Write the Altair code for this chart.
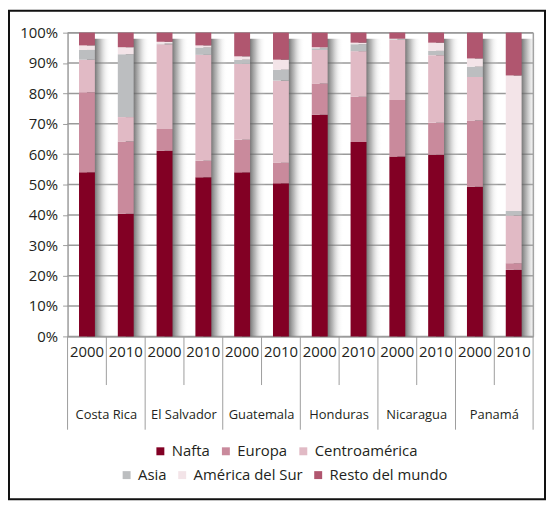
import altair as alt
import pandas as pd

countries = ["Costa Rica", "El Salvador", "Guatemala", "Honduras", "Nicaragua", "Panamá"]
years = ["2000", "2010"]
regions = ["Nafta", "Europa", "Centroamérica", "Asia", "América del Sur", "Resto del mundo"]
colors = ["#820024", "#c98a9c", "#e1bac5", "#bcbec0", "#f3e4e8", "#b0566f"]
y_ticks = [0, 10, 20, 30, 40, 50, 60, 70, 80, 90, 100]

# shares (%) per bar, order: CR2000, CR2010, ES2000, ES2010, GU2000, GU2010, HO2000, HO2010, NI2000, NI2010, PA2000, PA2010
nafta = [54.0, 40.4, 61.1, 52.4, 54.0, 50.4, 73.0, 64.0, 59.2, 59.8, 49.3, 21.9]
europa = [26.4, 23.8, 7.2, 5.4, 10.7, 6.8, 10.3, 14.9, 18.6, 10.5, 21.8, 2.2]
centro = [10.7, 8.0, 27.9, 34.9, 25.0, 27.0, 11.0, 15.0, 19.8, 22.3, 14.3, 15.7]
asia = [3.2, 20.7, 0.2, 2.4, 1.4, 3.6, 0.6, 2.3, 0.2, 1.4, 3.4, 1.5]
amsur = [1.5, 2.3, 0.6, 0.7, 1.1, 3.3, 0.3, 0.5, 0.2, 2.7, 2.7, 44.6]
resto = [4.2, 4.8, 3.0, 4.2, 7.8, 8.9, 4.8, 3.3, 2.0, 3.3, 8.5, 14.1]

series = [nafta, europa, centro, asia, amsur, resto]
keys = [f"{c}|{y}" for c in countries for y in years]

rows = []
for i, k in enumerate(keys):
    c, y = k.split("|")
    for j, (reg, vals) in enumerate(zip(regions, series)):
        rows.append({"key": k, "country": c, "year": y, "seg": reg, "idx": j, "val": vals[i]})
df = pd.DataFrame(rows)
grid_df = pd.DataFrame({"g": y_ticks})

FONT = "Open Sans"
GRAY = "#9d9d9d"
TXT = "#231f20"
W, H = 469, 306

xscale = alt.Scale(paddingInner=0, paddingOuter=0)
yscale = alt.Scale(domain=[0, 100], nice=False)

xaxis = alt.Axis(
    title=None, ticks=False, labelAngle=0, labelPadding=8,
    labelExpr="split(datum.value, '|')[1]", labelFontSize=15,
    labelFont=FONT, labelColor=TXT, domainColor=GRAY, grid=False,
)
yaxis = alt.Axis(
    title=None, values=y_ticks, labelExpr="datum.value + '%'",
    tickSize=5, labelPadding=5, labelFontSize=15, labelFont=FONT,
    labelColor=TXT, domainColor=GRAY, tickColor=GRAY, grid=False,
)

def leg(x, y):
    return alt.Legend(
        title=None, orient="none", legendX=x, legendY=y, direction="horizontal",
        symbolType="square", symbolSize=64, symbolStrokeWidth=0, padding=0,
        labelFontSize=15, labelFont=FONT, labelColor=TXT, labelOffset=4,
        columnPadding=8, labelLimit=300,
    )

base = alt.Chart(df)

grid = alt.Chart(grid_df).mark_rule(color="#9a9a9a", strokeWidth=1.5).encode(
    y=alt.Y("g:Q", scale=yscale, axis=yaxis),
    x=alt.value(0), x2=alt.value(W),
)

frame = alt.Chart(pd.DataFrame({"a": [0]})).mark_rect(
    fill="transparent", fillOpacity=0, stroke="#111111", strokeWidth=2
).encode(
    x=alt.value(-59), x2=alt.value(481), y=alt.value(-22), y2=alt.value(470)
)

shadow = base.transform_filter(alt.datum.seg == "Nafta").mark_bar(
    size=24, xOffset=12, yOffset=3,
    color=alt.LinearGradient(
        gradient="linear", x1=0, x2=1, y1=0, y2=0,
        stops=[
            alt.GradientStop(color="rgba(80,80,80,0.9)", offset=0),
            alt.GradientStop(color="rgba(95,95,95,0.85)", offset=0.33),
            alt.GradientStop(color="rgba(130,130,130,0.55)", offset=0.55),
            alt.GradientStop(color="rgba(200,200,200,0.2)", offset=0.8),
            alt.GradientStop(color="rgba(255,255,255,0)", offset=1),
        ],
    ),
).encode(
    x=alt.X("key:N", sort=keys, scale=xscale, axis=xaxis),
    y=alt.YDatum(99, type="quantitative", scale=yscale, axis=yaxis),
    y2=alt.Y2Datum(0),
)

stacked = base.transform_window(
    cum="sum(val)", frame=[None, 0], sort=[alt.SortField("idx")], groupby=["key"]
).transform_calculate(start="datum.cum - datum.val")

bars_a = stacked.transform_filter(alt.datum.idx < 3).mark_bar(size=16).encode(
    x=alt.X("key:N", sort=keys, scale=xscale, axis=xaxis),
    y=alt.Y("start:Q", scale=yscale, axis=yaxis),
    y2="cum:Q",
    color=alt.Color(
        "seg:N", scale=alt.Scale(domain=regions[:3], range=colors[:3]),
        legend=leg(86, 414),
    ),
)

bars_b = stacked.transform_filter(alt.datum.idx >= 3).mark_bar(size=16).encode(
    x=alt.X("key:N", sort=keys, scale=xscale, axis=xaxis),
    y=alt.Y("start:Q", scale=yscale, axis=yaxis),
    y2="cum:Q",
    fill=alt.Fill(
        "seg:N", scale=alt.Scale(domain=regions[3:], range=colors[3:]),
        legend=leg(52, 438),
    ),
)

sep_base = base.transform_filter(alt.datum.seg == "Nafta")

long_rules = sep_base.transform_filter(alt.datum.year == "2000").mark_rule(
    color=GRAY, strokeWidth=1
).encode(
    x=alt.X("key:N", sort=keys, scale=xscale, bandPosition=0, axis=xaxis),
    y=alt.value(H), y2=alt.value(H + 94),
)

short_rules = sep_base.transform_filter(alt.datum.year == "2010").mark_rule(
    color=GRAY, strokeWidth=1
).encode(
    x=alt.X("key:N", sort=keys, scale=xscale, bandPosition=0, axis=xaxis),
    y=alt.value(H), y2=alt.value(H + 49),
)

end_rule = sep_base.transform_filter(alt.datum.key == keys[-1]).mark_rule(
    color=GRAY, strokeWidth=1
).encode(
    x=alt.X("key:N", sort=keys, scale=xscale, bandPosition=1, axis=xaxis),
    y=alt.value(0), y2=alt.value(H + 94),
)

country_text = sep_base.transform_filter(alt.datum.year == "2000").mark_text(
    font=FONT, fontSize=13, color=TXT, baseline="middle", align="center"
).encode(
    x=alt.X("key:N", sort=keys, scale=xscale, bandPosition=1, axis=xaxis),
    y=alt.value(H + 79),
    text="country:N",
)

chart = alt.layer(
    grid, shadow, bars_a, bars_b,
    long_rules, short_rules, end_rule, country_text, frame
).resolve_scale(
    color="independent", fill="independent"
).properties(
    width=W, height=H, padding=0, background="white"
).configure_view(
    stroke=GRAY
)

chart.save("out.html", embed_options={"renderer": "svg", "actions": False})
